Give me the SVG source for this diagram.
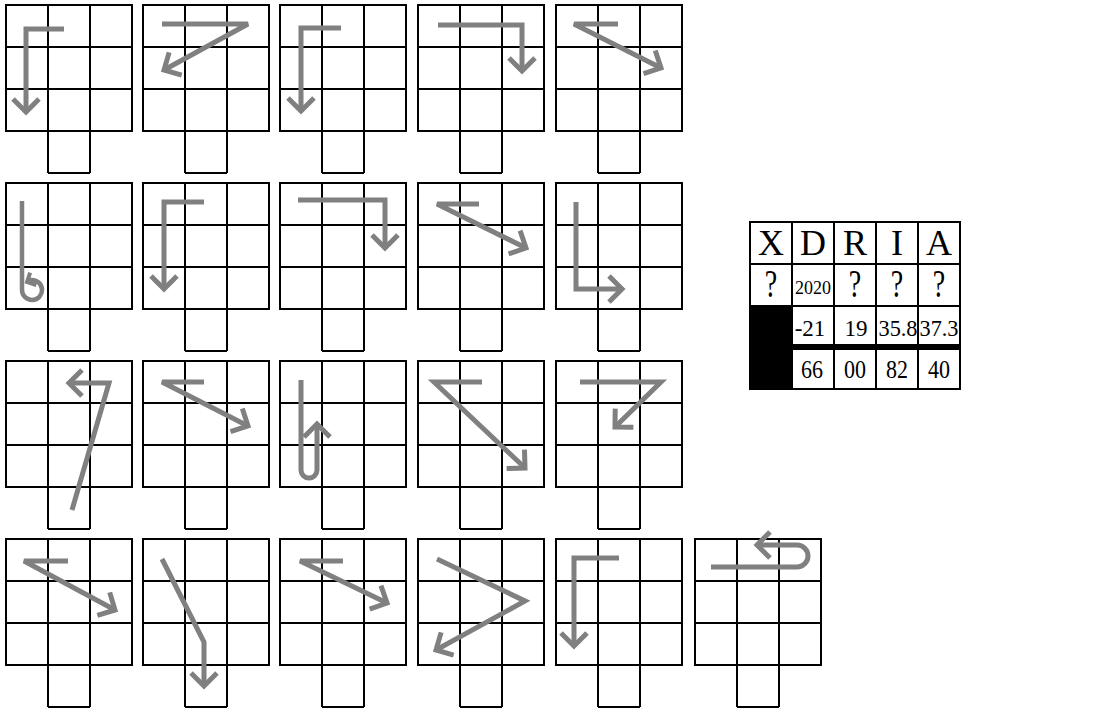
<svg xmlns="http://www.w3.org/2000/svg" xmlns:xlink="http://www.w3.org/1999/xlink" width="1100" height="715" viewBox="0 0 1100 715">
<style>
.grid{fill:none;stroke:#000;stroke-width:2}
.arr{fill:none;stroke:#808080;stroke-width:5;stroke-linejoin:miter;marker-end:url(#ah)}
.arrs{fill:none;stroke:#808080;stroke-width:4.5;marker-end:url(#ahs)}
.tl{stroke:#000;stroke-width:2;fill:none}
.hd{font-family:"Liberation Serif","Times New Roman",serif;font-size:36px;text-anchor:middle;fill:#000}
.q{font-family:"Liberation Serif","Times New Roman",serif;font-size:28px;text-anchor:middle;fill:#000}
.v3{font-family:"Liberation Serif","Times New Roman",serif;font-size:23px;text-anchor:middle;fill:#000}
.v4{font-family:"Liberation Serif","Times New Roman",serif;font-size:22px;text-anchor:middle;fill:#000}
.sm{font-family:"Liberation Serif","Times New Roman",serif;font-size:18px;text-anchor:middle;fill:#000}
</style>
<defs>
<marker id="ah" markerUnits="userSpaceOnUse" orient="auto" markerWidth="40" markerHeight="40" refX="0" refY="0" overflow="visible">
<path d="M-13,-13 L0,0 L-13,13" fill="none" stroke="#808080" stroke-width="5"/>
</marker>
<marker id="ahs" markerUnits="userSpaceOnUse" orient="auto" markerWidth="30" markerHeight="30" refX="0" refY="0" overflow="visible">
<path d="M-7,-7 L0,0 L-7,7" fill="none" stroke="#808080" stroke-width="4"/>
</marker>
<path id="g" class="grid" d="M0,0 H126 V126 H0 Z M42,0 V168 M84,0 V168 M0,42 H126 M0,84 H126 M42,168 H84"/>
</defs>
<rect width="1100" height="715" fill="#fff"/>

<g id="node-1"><use xlink:href="#g" href="#g" x="6" y="5"/></g>
<g id="node-2"><use xlink:href="#g" href="#g" x="143" y="5"/></g>
<g id="node-3"><use xlink:href="#g" href="#g" x="280" y="5"/></g>
<g id="node-4"><use xlink:href="#g" href="#g" x="418" y="5"/></g>
<g id="node-5"><use xlink:href="#g" href="#g" x="556" y="5"/></g>
<g id="node-6"><use xlink:href="#g" href="#g" x="6" y="183"/></g>
<g id="node-7"><use xlink:href="#g" href="#g" x="143" y="183"/></g>
<g id="node-8"><use xlink:href="#g" href="#g" x="280" y="183"/></g>
<g id="node-9"><use xlink:href="#g" href="#g" x="418" y="183"/></g>
<g id="node-10"><use xlink:href="#g" href="#g" x="556" y="183"/></g>
<g id="node-11"><use xlink:href="#g" href="#g" x="6" y="361"/></g>
<g id="node-12"><use xlink:href="#g" href="#g" x="143" y="361"/></g>
<g id="node-13"><use xlink:href="#g" href="#g" x="280" y="361"/></g>
<g id="node-14"><use xlink:href="#g" href="#g" x="418" y="361"/></g>
<g id="node-15"><use xlink:href="#g" href="#g" x="556" y="361"/></g>
<g id="node-16"><use xlink:href="#g" href="#g" x="6" y="539"/></g>
<g id="node-17"><use xlink:href="#g" href="#g" x="143" y="539"/></g>
<g id="node-18"><use xlink:href="#g" href="#g" x="280" y="539"/></g>
<g id="node-19"><use xlink:href="#g" href="#g" x="418" y="539"/></g>
<g id="node-20"><use xlink:href="#g" href="#g" x="556" y="539"/></g>
<g id="node-21"><use xlink:href="#g" href="#g" x="695" y="539"/></g>

<g id="connectors">
<path class="arr" d="M64,29 H26 V112"/>
<path class="arr" d="M162,24 H248 L164,70"/>
<path class="arr" d="M341,28 H301 V111"/>
<path class="arr" d="M438,25 H522 V71"/>
<path class="arr" d="M618,24 H574 L661,68"/>

<path class="arrs" d="M22,201 V290 A10,10 0 1 0 31,280 L27,282"/>
<path class="arr" d="M204,202 H164 V289"/>
<path class="arr" d="M298,200 H385 V248"/>
<path class="arr" d="M479,204 H437 L526,248"/>
<path class="arr" d="M576,202 V289 H622"/>

<path class="arr" d="M72,510 L109,383 H69"/>
<path class="arr" d="M204,382 H162 L248,426"/>
<path class="arr" d="M301,380 V470 A8,8 0 0 0 317,470 V424"/>
<path class="arr" d="M482,382 H434 L525,468"/>
<path class="arr" d="M580,382 H661 L615,427"/>

<path class="arr" d="M68,561 H24 L115,610"/>
<path class="arr" d="M162,559 L204,642 V686"/>
<path class="arr" d="M343,561 H300 L387,603"/>
<path class="arr" d="M437,559 L525,601 L436,650"/>
<path class="arr" d="M619,558 H574 V646"/>
<path class="arr" d="M711,567 H797 A11,11 0 0 0 797,545 H757"/>
</g>

<g id="table">
<rect x="750" y="222" width="210" height="167" fill="#fff"/>
<rect x="750" y="306" width="42" height="83" fill="#000"/>
<rect x="792" y="344" width="168" height="6" fill="#000"/>
<path class="tl" d="M750,222 H960 V389 H750 Z M750,264 H960 M750,306 H960 M792,222 V389 M834,222 V389 M876,222 V389 M918,222 V389"/>
<text class="hd" x="771" y="255">X</text>
<text class="hd" x="813" y="255">D</text>
<text class="hd" x="855" y="255">R</text>
<text class="hd" x="897" y="255">I</text>
<text class="hd" x="939" y="255">A</text>
<text class="q" transform="translate(771,297) scale(1,1.4)">?</text>
<text class="sm" x="813" y="294">2020</text>
<text class="q" transform="translate(855,297) scale(1,1.4)">?</text>
<text class="q" transform="translate(897,297) scale(1,1.4)">?</text>
<text class="q" transform="translate(939,297) scale(1,1.4)">?</text>
<text class="v3" x="810" y="336">-21</text>
<text class="v3" x="856" y="336">19</text>
<text class="v3" x="898" y="336" textLength="39" lengthAdjust="spacingAndGlyphs">35.8</text>
<text class="v3" x="939" y="336" textLength="39" lengthAdjust="spacingAndGlyphs">37.3</text>
<text class="v4" transform="translate(812,378) scale(1,1.12)">66</text>
<text class="v4" transform="translate(855,378) scale(1,1.12)">00</text>
<text class="v4" transform="translate(897,378) scale(1,1.12)">82</text>
<text class="v4" transform="translate(939,378) scale(1,1.12)">40</text>
</g>
</svg>
